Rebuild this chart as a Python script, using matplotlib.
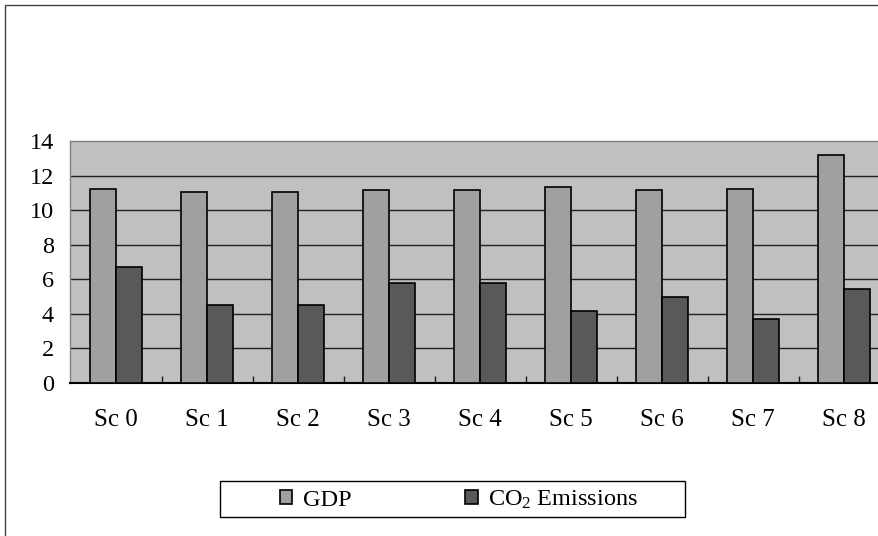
import numpy as np
import matplotlib.pyplot as plt
from matplotlib.patches import Rectangle

plt.rcParams['font.family'] = ['Liberation Serif', 'DejaVu Serif']
plt.rcParams['mathtext.default'] = 'regular'

scenarios = ['Sc 0', 'Sc 1', 'Sc 2', 'Sc 3', 'Sc 4', 'Sc 5', 'Sc 6', 'Sc 7', 'Sc 8']
gdp = [11.22, 11.03, 11.03, 11.14, 11.14, 11.32, 11.14, 11.22, 13.19]
co2 = [6.70, 4.54, 4.54, 5.78, 5.78, 4.19, 5.00, 3.73, 5.43]
yticks = [0, 2, 4, 6, 8, 10, 12, 14]

fig = plt.figure(figsize=(8.79, 5.36), dpi=100)
ax = fig.add_axes([70.5 / 879, 153 / 536, 819 / 879, 242 / 536])
ax.set_facecolor('#c0c0c0')

x = np.arange(len(scenarios))
w = 0.29
ax.bar(x - w / 2, gdp, w, color='#a0a0a0', edgecolor='black', linewidth=1.2,
       label='GDP', zorder=3)
ax.bar(x + w / 2, co2, w, color='#595959', edgecolor='black', linewidth=1.2,
       label='CO$_2$ Emissions', zorder=3)

# horizontal gridlines inside the plot area
for v in yticks[1:-1]:
    ax.axhline(v, color='#202020', linewidth=1.0, zorder=1)

ax.set_xlim(-0.5, len(scenarios) - 0.5)
ax.set_ylim(0, 14)
ax.set_yticks(yticks)
ax.set_xticks(x)
ax.set_xticklabels(scenarios)
ax.set_xticks(np.arange(0.5, len(scenarios) - 1, 1), minor=True)
ax.tick_params(axis='both', which='major', length=0)
ax.tick_params(axis='y', pad=12, labelsize=17.5)
ax.tick_params(axis='x', pad=19, labelsize=18)
ax.tick_params(axis='x', which='minor', direction='in', length=5,
               color='#202020', width=1)

for side in ['top', 'left', 'right']:
    ax.spines[side].set_color('#808080')
    ax.spines[side].set_linewidth(1.0)
ax.spines['bottom'].set_color('black')
ax.spines['bottom'].set_linewidth(1.5)

# outer chart frame
fig.patches.append(Rectangle((5 / 879, -0.1), 2, 1.1 - 5 / 536, fill=False,
                             edgecolor='#404040', linewidth=1.0,
                             transform=fig.transFigure, figure=fig))
# legend box
fig.patches.append(Rectangle((220 / 879, 1 - 517 / 536), 465 / 879, 36 / 536,
                             fill=False, edgecolor='black', linewidth=1.0,
                             transform=fig.transFigure, figure=fig))

handles, labels = ax.get_legend_handles_labels()
fig.legend(handles, labels, loc='center', bbox_to_anchor=(459 / 879, 1 - 500 / 536),
           ncol=2, frameon=False, fontsize=17.5, handlelength=0.5,
           handleheight=0.5, handletextpad=0.42, columnspacing=4.7)

fig.savefig('out.png', dpi=100)
